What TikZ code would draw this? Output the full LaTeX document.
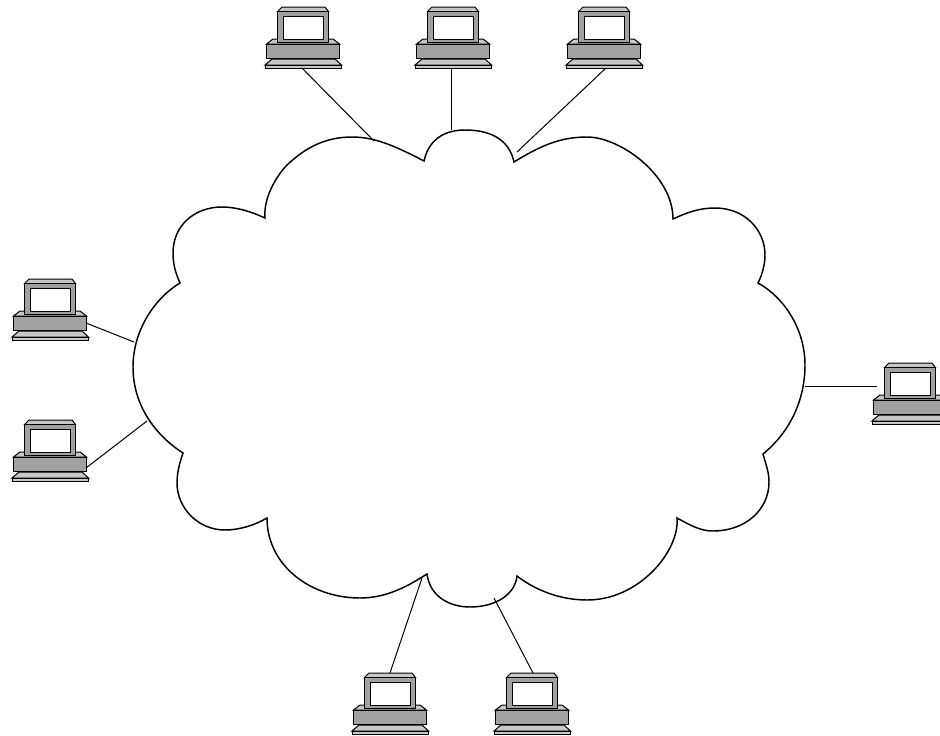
\documentclass[tikz,border=0pt]{standalone}
\definecolor{pcgray}{gray}{0.63}
\definecolor{pclight}{gray}{0.78}
\tikzset{
  x=0.75pt,y=-0.75pt,
  pcline/.style={draw=black,line width=0.75pt,line join=miter},
  wire/.style={draw=black,line width=0.75pt},
  cloudline/.style={draw=black,line width=1.1pt,line join=miter},
  computer/.pic={
    \path[pcline,fill=pclight] (8,32) -- (68,32) -- (74.5,37) -- (1.5,37) -- cycle;
    \path[pcline,fill=pcgray] (1.5,37) rectangle (74.5,51);
    \path[pcline,fill=pclight] (7,52) -- (70,52) -- (76.5,58) -- (0,58) -- cycle;
    \path[pcline,fill=pclight] (0,58) rectangle (76.5,61.5);
    \path[pcline,fill=pclight] (12.5,4.5) -- (17,0) -- (60,0) -- (63.5,4.5) -- cycle;
    \path[pcline,fill=pcgray] (12.5,4.5) rectangle (63.5,35);
    \path[pcline,fill=white] (18,9) rectangle (58,32);
  }
}
\begin{document}
\begin{tikzpicture}
\useasboundingbox (0,0) rectangle (940,736);
\clip (0,0) rectangle (940,736);
% cloud
\path[cloudline]
  (424,161) .. controls (427,147) and (437,130) .. (465,130)
  .. controls (495,130) and (510,143) .. (514,162)
  .. controls (540,146) and (560,137) .. (587,137)
  .. controls (620,137) and (673,175) .. (673,219)
  .. controls (688,212) and (700,208) .. (715,208)
  .. controls (745,208) and (765,230) .. (765,255)
  .. controls (765,265) and (762,275) .. (758,283)
  .. controls (785,298) and (805,330) .. (805,365)
  .. controls (805,400) and (790,432) .. (763,454)
  .. controls (766,465) and (769,472) .. (769,482)
  .. controls (769,510) and (745,531) .. (713,531)
  .. controls (700,531) and (690,525) .. (677,518)
  .. controls (680,550) and (640,600) .. (587,600)
  .. controls (560,600) and (535,590) .. (517,576)
  .. controls (515,595) and (495,607) .. (470,607)
  .. controls (450,607) and (430,597) .. (427,574)
  .. controls (405,588) and (385,598) .. (360,598)
  .. controls (310,598) and (267,565) .. (267,518)
  .. controls (255,525) and (240,530) .. (225,530)
  .. controls (198,530) and (177,508) .. (177,483)
  .. controls (177,472) and (180,462) .. (183,453)
  .. controls (155,435) and (133,405) .. (133,367)
  .. controls (133,330) and (155,298) .. (180,283)
  .. controls (175,272) and (173,263) .. (173,253)
  .. controls (173,225) and (195,207) .. (222,207)
  .. controls (237,207) and (252,212) .. (265,218)
  .. controls (263,195) and (280,172) .. (287,165)
  .. controls (305,148) and (325,137) .. (352,137)
  .. controls (375,137) and (395,146) .. (424,161)
  -- cycle;
% cloud attachment points
\coordinate (ct1) at (374,141);
\coordinate (ct2) at (451,130);
\coordinate (ct3) at (517,152);
\coordinate (cl1) at (134,342);
\coordinate (cl2) at (147,421);
\coordinate (cr) at (805,386.5);
\coordinate (cb1) at (422,578);
\coordinate (cb2) at (494,598);
% computers
\pic (a) at (265,7) {computer};
\pic (b) at (415,7) {computer};
\pic (c) at (566,7) {computer};
\pic (d) at (12,279) {computer};
\pic (e) at (12,420) {computer};
\pic (f) at (872,363) {computer};
\pic (g) at (352,673) {computer};
\pic (h) at (494,673) {computer};
% ports
\coordinate (pa) at (302,68);
\coordinate (pb) at (451,68);
\coordinate (pc) at (606,68);
\coordinate (pd) at (86,323);
\coordinate (pe) at (86,468);
\coordinate (pf) at (877,386.5);
\coordinate (pg) at (390,673);
\coordinate (ph) at (533,673);
\draw[wire] (pa) -- (ct1);
\draw[wire] (pb) -- (ct2);
\draw[wire] (pc) -- (ct3);
\draw[wire] (pd) -- (cl1);
\draw[wire] (pe) -- (cl2);
\draw[wire,line width=1.4pt] (pf) -- (cr);
\draw[wire] (pg) -- (cb1);
\draw[wire] (ph) -- (cb2);
\end{tikzpicture}
\end{document}
